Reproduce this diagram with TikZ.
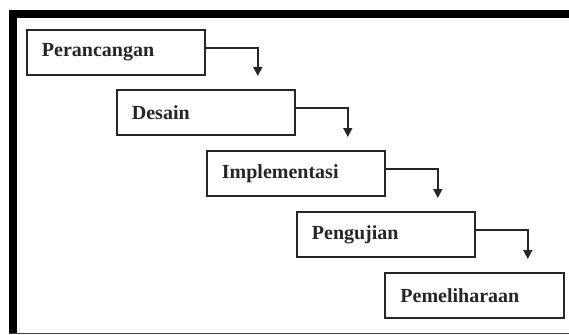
\documentclass[tikz,border=0pt]{standalone}
\usepackage{fontspec}
\setmainfont{Liberation Serif}
\usetikzlibrary{arrows.meta,calc}
\begin{document}
\begin{tikzpicture}[x=1pt,y=-1pt,
  stagebox/.style={draw=black!85,line width=1.8pt,anchor=north west,
    minimum width=178pt,minimum height=45pt,text width=148pt,inner xsep=15pt,
    align=left,font=\fontsize{20}{22}\selectfont\bfseries,text=black!85},
  flow/.style={draw=black!85,line width=1.5pt,-{Triangle[length=9pt,width=9pt]}}]
\useasboundingbox (0,0) rectangle (569,334);
\fill[white] (0,0) rectangle (569,334);
% frame
\fill[black] (9,10) rectangle (569,18);
\fill[black] (9,10) rectangle (17,334);
\draw[black!75,line width=1pt] (9,333) -- (569,333);
% stages
\node[stagebox] (b1) at (26,29) {Perancangan};
\node[stagebox] (b2) at (116,89) {Desain};
\node[stagebox] (b3) at (206,150) {Implementasi};
\node[stagebox] (b4) at (296,211) {Pengujian};
\node[stagebox,minimum width=179pt] (b5) at (384,272) {Pemeliharaan};
% connectors
\draw[flow] ([yshift=-19pt]b1.north east) -| ([xshift=52pt,yshift=13pt]b2.north east -| b1.east);
\draw[flow] ([yshift=-19pt]b2.north east) -| ([xshift=52pt,yshift=13pt]b3.north east -| b2.east);
\draw[flow] ([yshift=-19pt]b3.north east) -| ([xshift=52pt,yshift=13pt]b4.north east -| b3.east);
\draw[flow] ([yshift=-19pt]b4.north east) -| ([xshift=52pt,yshift=13pt]b5.north east -| b4.east);
\end{tikzpicture}
\end{document}
